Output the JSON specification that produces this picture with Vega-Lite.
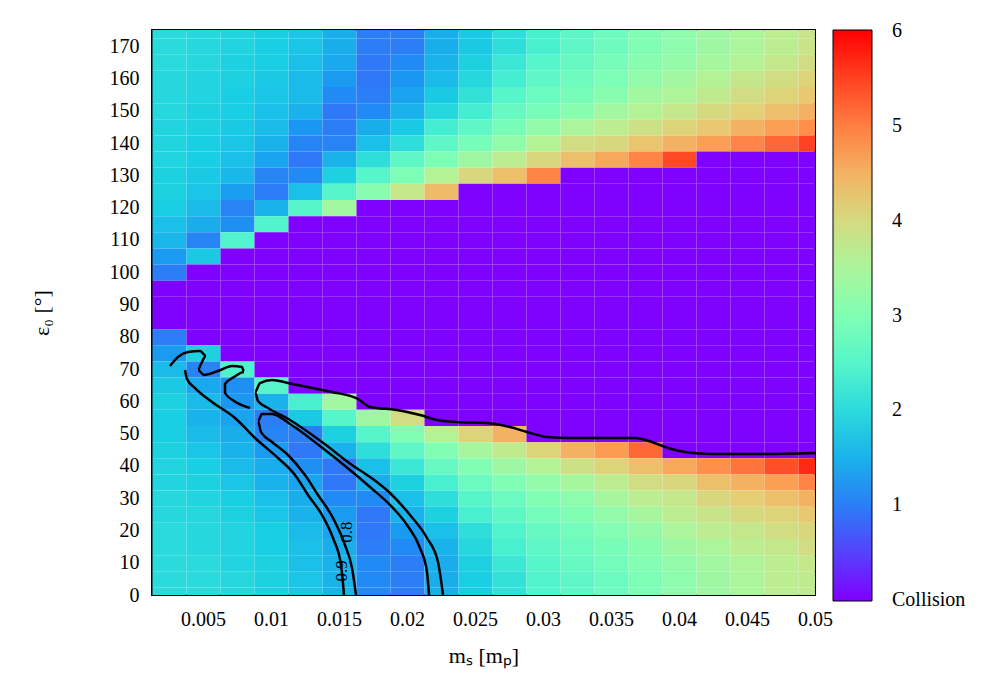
{
"$schema": "https://vega.github.io/schema/vega-lite/v6.json",
"width": 663, "height": 565,
"autosize": {"type": "none"},
"padding": {"left": 152, "top": 30, "right": 185, "bottom": 105},
"background": "white",
"config": {
 "view": {"stroke": "black", "strokeWidth": 2},
 "axis": {"domain": false, "ticks": false, "grid": false, "labelFont": "Liberation Serif", "labelFontSize": 20, "labelColor": "black", "titleFont": "Liberation Serif", "titleFontSize": 22, "titleFontWeight": "normal", "titleColor": "black"},
 "legend": {"labelFont": "Liberation Serif", "labelFontSize": 20, "labelColor": "black"}
},
"datasets": {
"cells": [
{"x":0.0025,"y":175,"v":2},{"x":0.005,"y":175,"v":1.95},{"x":0.0075,"y":175,"v":1.9},{"x":0.01,"y":175,"v":1.8},{"x":0.0125,"y":175,"v":1.7},{"x":0.015,"y":175,"v":1.45},{"x":0.0175,"y":175,"v":1},{"x":0.02,"y":175,"v":1},{"x":0.0225,"y":175,"v":1.45},{"x":0.025,"y":175,"v":1.75},{"x":0.0275,"y":175,"v":2.05},{"x":0.03,"y":175,"v":2.35},{"x":0.0325,"y":175,"v":2.6},{"x":0.035,"y":175,"v":2.8},{"x":0.0375,"y":175,"v":3},{"x":0.04,"y":175,"v":3.15},{"x":0.0425,"y":175,"v":3.35},{"x":0.045,"y":175,"v":3.5},{"x":0.0475,"y":175,"v":3.7},{"x":0.05,"y":175,"v":3.85},
{"x":0.0025,"y":170,"v":2},{"x":0.005,"y":170,"v":1.95},{"x":0.0075,"y":170,"v":1.9},{"x":0.01,"y":170,"v":1.8},{"x":0.0125,"y":170,"v":1.7},{"x":0.015,"y":170,"v":1.45},{"x":0.0175,"y":170,"v":1},{"x":0.02,"y":170,"v":1},{"x":0.0225,"y":170,"v":1.45},{"x":0.025,"y":170,"v":1.75},{"x":0.0275,"y":170,"v":2.05},{"x":0.03,"y":170,"v":2.35},{"x":0.0325,"y":170,"v":2.6},{"x":0.035,"y":170,"v":2.8},{"x":0.0375,"y":170,"v":3},{"x":0.04,"y":170,"v":3.15},{"x":0.0425,"y":170,"v":3.35},{"x":0.045,"y":170,"v":3.5},{"x":0.0475,"y":170,"v":3.7},{"x":0.05,"y":170,"v":3.85},
{"x":0.0025,"y":165,"v":2},{"x":0.005,"y":165,"v":1.95},{"x":0.0075,"y":165,"v":1.85},{"x":0.01,"y":165,"v":1.8},{"x":0.0125,"y":165,"v":1.65},{"x":0.015,"y":165,"v":1.4},{"x":0.0175,"y":165,"v":0.95},{"x":0.02,"y":165,"v":1.1},{"x":0.0225,"y":165,"v":1.5},{"x":0.025,"y":165,"v":1.85},{"x":0.0275,"y":165,"v":2.2},{"x":0.03,"y":165,"v":2.5},{"x":0.0325,"y":165,"v":2.7},{"x":0.035,"y":165,"v":2.9},{"x":0.0375,"y":165,"v":3.1},{"x":0.04,"y":165,"v":3.25},{"x":0.0425,"y":165,"v":3.45},{"x":0.045,"y":165,"v":3.6},{"x":0.0475,"y":165,"v":3.8},{"x":0.05,"y":165,"v":3.95},
{"x":0.0025,"y":160,"v":1.95},{"x":0.005,"y":160,"v":1.9},{"x":0.0075,"y":160,"v":1.85},{"x":0.01,"y":160,"v":1.75},{"x":0.0125,"y":160,"v":1.6},{"x":0.015,"y":160,"v":1.25},{"x":0.0175,"y":160,"v":0.95},{"x":0.02,"y":160,"v":1.2},{"x":0.0225,"y":160,"v":1.6},{"x":0.025,"y":160,"v":1.95},{"x":0.0275,"y":160,"v":2.3},{"x":0.03,"y":160,"v":2.6},{"x":0.0325,"y":160,"v":2.8},{"x":0.035,"y":160,"v":2.95},{"x":0.0375,"y":160,"v":3.2},{"x":0.04,"y":160,"v":3.4},{"x":0.0425,"y":160,"v":3.6},{"x":0.045,"y":160,"v":3.8},{"x":0.0475,"y":160,"v":3.95},{"x":0.05,"y":160,"v":4.1},
{"x":0.0025,"y":155,"v":1.95},{"x":0.005,"y":155,"v":1.9},{"x":0.0075,"y":155,"v":1.8},{"x":0.01,"y":155,"v":1.7},{"x":0.0125,"y":155,"v":1.6},{"x":0.015,"y":155,"v":1.1},{"x":0.0175,"y":155,"v":1},{"x":0.02,"y":155,"v":1.35},{"x":0.0225,"y":155,"v":1.75},{"x":0.025,"y":155,"v":2.1},{"x":0.0275,"y":155,"v":2.5},{"x":0.03,"y":155,"v":2.75},{"x":0.0325,"y":155,"v":2.9},{"x":0.035,"y":155,"v":3.1},{"x":0.0375,"y":155,"v":3.4},{"x":0.04,"y":155,"v":3.55},{"x":0.0425,"y":155,"v":3.75},{"x":0.045,"y":155,"v":3.95},{"x":0.0475,"y":155,"v":4.1},{"x":0.05,"y":155,"v":4.25},
{"x":0.0025,"y":150,"v":1.95},{"x":0.005,"y":150,"v":1.85},{"x":0.0075,"y":150,"v":1.8},{"x":0.01,"y":150,"v":1.65},{"x":0.0125,"y":150,"v":1.5},{"x":0.015,"y":150,"v":0.95},{"x":0.0175,"y":150,"v":1.1},{"x":0.02,"y":150,"v":1.5},{"x":0.0225,"y":150,"v":1.95},{"x":0.025,"y":150,"v":2.3},{"x":0.0275,"y":150,"v":2.7},{"x":0.03,"y":150,"v":2.9},{"x":0.0325,"y":150,"v":3.1},{"x":0.035,"y":150,"v":3.4},{"x":0.0375,"y":150,"v":3.6},{"x":0.04,"y":150,"v":3.8},{"x":0.0425,"y":150,"v":4},{"x":0.045,"y":150,"v":4.15},{"x":0.0475,"y":150,"v":4.35},{"x":0.05,"y":150,"v":4.5},
{"x":0.0025,"y":145,"v":1.9},{"x":0.005,"y":145,"v":1.85},{"x":0.0075,"y":145,"v":1.75},{"x":0.01,"y":145,"v":1.6},{"x":0.0125,"y":145,"v":1.2},{"x":0.015,"y":145,"v":1},{"x":0.0175,"y":145,"v":1.45},{"x":0.02,"y":145,"v":1.75},{"x":0.0225,"y":145,"v":2.3},{"x":0.025,"y":145,"v":2.6},{"x":0.0275,"y":145,"v":2.9},{"x":0.03,"y":145,"v":3.2},{"x":0.0325,"y":145,"v":3.5},{"x":0.035,"y":145,"v":3.7},{"x":0.0375,"y":145,"v":3.9},{"x":0.04,"y":145,"v":4.1},{"x":0.0425,"y":145,"v":4.25},{"x":0.045,"y":145,"v":4.5},{"x":0.0475,"y":145,"v":4.7},{"x":0.05,"y":145,"v":4.85},
{"x":0.0025,"y":140,"v":1.9},{"x":0.005,"y":140,"v":1.8},{"x":0.0075,"y":140,"v":1.7},{"x":0.01,"y":140,"v":1.5},{"x":0.0125,"y":140,"v":1.05},{"x":0.015,"y":140,"v":1.05},{"x":0.0175,"y":140,"v":1.65},{"x":0.02,"y":140,"v":2.05},{"x":0.0225,"y":140,"v":2.6},{"x":0.025,"y":140,"v":2.9},{"x":0.0275,"y":140,"v":3.2},{"x":0.03,"y":140,"v":3.6},{"x":0.0325,"y":140,"v":3.95},{"x":0.035,"y":140,"v":4.05},{"x":0.0375,"y":140,"v":4.3},{"x":0.04,"y":140,"v":4.5},{"x":0.0425,"y":140,"v":4.7},{"x":0.045,"y":140,"v":4.95},{"x":0.0475,"y":140,"v":5.2},{"x":0.05,"y":140,"v":5.5},
{"x":0.0025,"y":135,"v":1.9},{"x":0.005,"y":135,"v":1.8},{"x":0.0075,"y":135,"v":1.65},{"x":0.01,"y":135,"v":1.35},{"x":0.0125,"y":135,"v":0.95},{"x":0.015,"y":135,"v":1.5},{"x":0.0175,"y":135,"v":2.05},{"x":0.02,"y":135,"v":2.6},{"x":0.0225,"y":135,"v":2.95},{"x":0.025,"y":135,"v":3.35},{"x":0.0275,"y":135,"v":3.7},{"x":0.03,"y":135,"v":4.05},{"x":0.0325,"y":135,"v":4.35},{"x":0.035,"y":135,"v":4.6},{"x":0.0375,"y":135,"v":4.95},{"x":0.04,"y":135,"v":5.45},{"x":0.0425,"y":135,"v":0},{"x":0.045,"y":135,"v":0},{"x":0.0475,"y":135,"v":0},{"x":0.05,"y":135,"v":0},
{"x":0.0025,"y":130,"v":1.85},{"x":0.005,"y":130,"v":1.75},{"x":0.0075,"y":130,"v":1.55},{"x":0.01,"y":130,"v":1.05},{"x":0.0125,"y":130,"v":1.1},{"x":0.015,"y":130,"v":1.85},{"x":0.0175,"y":130,"v":2.5},{"x":0.02,"y":130,"v":2.95},{"x":0.0225,"y":130,"v":3.6},{"x":0.025,"y":130,"v":4.05},{"x":0.0275,"y":130,"v":4.35},{"x":0.03,"y":130,"v":4.95},{"x":0.0325,"y":130,"v":0},{"x":0.035,"y":130,"v":0},{"x":0.0375,"y":130,"v":0},{"x":0.04,"y":130,"v":0},{"x":0.0425,"y":130,"v":0},{"x":0.045,"y":130,"v":0},{"x":0.0475,"y":130,"v":0},{"x":0.05,"y":130,"v":0},
{"x":0.0025,"y":125,"v":1.85},{"x":0.005,"y":125,"v":1.7},{"x":0.0075,"y":125,"v":1.3},{"x":0.01,"y":125,"v":1},{"x":0.0125,"y":125,"v":1.65},{"x":0.015,"y":125,"v":2.5},{"x":0.0175,"y":125,"v":3.1},{"x":0.02,"y":125,"v":3.8},{"x":0.0225,"y":125,"v":4.4},{"x":0.025,"y":125,"v":0},{"x":0.0275,"y":125,"v":0},{"x":0.03,"y":125,"v":0},{"x":0.0325,"y":125,"v":0},{"x":0.035,"y":125,"v":0},{"x":0.0375,"y":125,"v":0},{"x":0.04,"y":125,"v":0},{"x":0.0425,"y":125,"v":0},{"x":0.045,"y":125,"v":0},{"x":0.0475,"y":125,"v":0},{"x":0.05,"y":125,"v":0},
{"x":0.0025,"y":120,"v":1.8},{"x":0.005,"y":120,"v":1.6},{"x":0.0075,"y":120,"v":1.05},{"x":0.01,"y":120,"v":1.5},{"x":0.0125,"y":120,"v":2.5},{"x":0.015,"y":120,"v":3.4},{"x":0.0175,"y":120,"v":0},{"x":0.02,"y":120,"v":0},{"x":0.0225,"y":120,"v":0},{"x":0.025,"y":120,"v":0},{"x":0.0275,"y":120,"v":0},{"x":0.03,"y":120,"v":0},{"x":0.0325,"y":120,"v":0},{"x":0.035,"y":120,"v":0},{"x":0.0375,"y":120,"v":0},{"x":0.04,"y":120,"v":0},{"x":0.0425,"y":120,"v":0},{"x":0.045,"y":120,"v":0},{"x":0.0475,"y":120,"v":0},{"x":0.05,"y":120,"v":0},
{"x":0.0025,"y":115,"v":1.65},{"x":0.005,"y":115,"v":1.45},{"x":0.0075,"y":115,"v":1.15},{"x":0.01,"y":115,"v":2.45},{"x":0.0125,"y":115,"v":0},{"x":0.015,"y":115,"v":0},{"x":0.0175,"y":115,"v":0},{"x":0.02,"y":115,"v":0},{"x":0.0225,"y":115,"v":0},{"x":0.025,"y":115,"v":0},{"x":0.0275,"y":115,"v":0},{"x":0.03,"y":115,"v":0},{"x":0.0325,"y":115,"v":0},{"x":0.035,"y":115,"v":0},{"x":0.0375,"y":115,"v":0},{"x":0.04,"y":115,"v":0},{"x":0.0425,"y":115,"v":0},{"x":0.045,"y":115,"v":0},{"x":0.0475,"y":115,"v":0},{"x":0.05,"y":115,"v":0},
{"x":0.0025,"y":110,"v":1.55},{"x":0.005,"y":110,"v":1.05},{"x":0.0075,"y":110,"v":2.45},{"x":0.01,"y":110,"v":0},{"x":0.0125,"y":110,"v":0},{"x":0.015,"y":110,"v":0},{"x":0.0175,"y":110,"v":0},{"x":0.02,"y":110,"v":0},{"x":0.0225,"y":110,"v":0},{"x":0.025,"y":110,"v":0},{"x":0.0275,"y":110,"v":0},{"x":0.03,"y":110,"v":0},{"x":0.0325,"y":110,"v":0},{"x":0.035,"y":110,"v":0},{"x":0.0375,"y":110,"v":0},{"x":0.04,"y":110,"v":0},{"x":0.0425,"y":110,"v":0},{"x":0.045,"y":110,"v":0},{"x":0.0475,"y":110,"v":0},{"x":0.05,"y":110,"v":0},
{"x":0.0025,"y":105,"v":1.25},{"x":0.005,"y":105,"v":1.75},{"x":0.0075,"y":105,"v":0},{"x":0.01,"y":105,"v":0},{"x":0.0125,"y":105,"v":0},{"x":0.015,"y":105,"v":0},{"x":0.0175,"y":105,"v":0},{"x":0.02,"y":105,"v":0},{"x":0.0225,"y":105,"v":0},{"x":0.025,"y":105,"v":0},{"x":0.0275,"y":105,"v":0},{"x":0.03,"y":105,"v":0},{"x":0.0325,"y":105,"v":0},{"x":0.035,"y":105,"v":0},{"x":0.0375,"y":105,"v":0},{"x":0.04,"y":105,"v":0},{"x":0.0425,"y":105,"v":0},{"x":0.045,"y":105,"v":0},{"x":0.0475,"y":105,"v":0},{"x":0.05,"y":105,"v":0},
{"x":0.0025,"y":100,"v":1},{"x":0.005,"y":100,"v":0},{"x":0.0075,"y":100,"v":0},{"x":0.01,"y":100,"v":0},{"x":0.0125,"y":100,"v":0},{"x":0.015,"y":100,"v":0},{"x":0.0175,"y":100,"v":0},{"x":0.02,"y":100,"v":0},{"x":0.0225,"y":100,"v":0},{"x":0.025,"y":100,"v":0},{"x":0.0275,"y":100,"v":0},{"x":0.03,"y":100,"v":0},{"x":0.0325,"y":100,"v":0},{"x":0.035,"y":100,"v":0},{"x":0.0375,"y":100,"v":0},{"x":0.04,"y":100,"v":0},{"x":0.0425,"y":100,"v":0},{"x":0.045,"y":100,"v":0},{"x":0.0475,"y":100,"v":0},{"x":0.05,"y":100,"v":0},
{"x":0.0025,"y":95,"v":0},{"x":0.005,"y":95,"v":0},{"x":0.0075,"y":95,"v":0},{"x":0.01,"y":95,"v":0},{"x":0.0125,"y":95,"v":0},{"x":0.015,"y":95,"v":0},{"x":0.0175,"y":95,"v":0},{"x":0.02,"y":95,"v":0},{"x":0.0225,"y":95,"v":0},{"x":0.025,"y":95,"v":0},{"x":0.0275,"y":95,"v":0},{"x":0.03,"y":95,"v":0},{"x":0.0325,"y":95,"v":0},{"x":0.035,"y":95,"v":0},{"x":0.0375,"y":95,"v":0},{"x":0.04,"y":95,"v":0},{"x":0.0425,"y":95,"v":0},{"x":0.045,"y":95,"v":0},{"x":0.0475,"y":95,"v":0},{"x":0.05,"y":95,"v":0},
{"x":0.0025,"y":90,"v":0},{"x":0.005,"y":90,"v":0},{"x":0.0075,"y":90,"v":0},{"x":0.01,"y":90,"v":0},{"x":0.0125,"y":90,"v":0},{"x":0.015,"y":90,"v":0},{"x":0.0175,"y":90,"v":0},{"x":0.02,"y":90,"v":0},{"x":0.0225,"y":90,"v":0},{"x":0.025,"y":90,"v":0},{"x":0.0275,"y":90,"v":0},{"x":0.03,"y":90,"v":0},{"x":0.0325,"y":90,"v":0},{"x":0.035,"y":90,"v":0},{"x":0.0375,"y":90,"v":0},{"x":0.04,"y":90,"v":0},{"x":0.0425,"y":90,"v":0},{"x":0.045,"y":90,"v":0},{"x":0.0475,"y":90,"v":0},{"x":0.05,"y":90,"v":0},
{"x":0.0025,"y":85,"v":0},{"x":0.005,"y":85,"v":0},{"x":0.0075,"y":85,"v":0},{"x":0.01,"y":85,"v":0},{"x":0.0125,"y":85,"v":0},{"x":0.015,"y":85,"v":0},{"x":0.0175,"y":85,"v":0},{"x":0.02,"y":85,"v":0},{"x":0.0225,"y":85,"v":0},{"x":0.025,"y":85,"v":0},{"x":0.0275,"y":85,"v":0},{"x":0.03,"y":85,"v":0},{"x":0.0325,"y":85,"v":0},{"x":0.035,"y":85,"v":0},{"x":0.0375,"y":85,"v":0},{"x":0.04,"y":85,"v":0},{"x":0.0425,"y":85,"v":0},{"x":0.045,"y":85,"v":0},{"x":0.0475,"y":85,"v":0},{"x":0.05,"y":85,"v":0},
{"x":0.0025,"y":80,"v":1},{"x":0.005,"y":80,"v":0},{"x":0.0075,"y":80,"v":0},{"x":0.01,"y":80,"v":0},{"x":0.0125,"y":80,"v":0},{"x":0.015,"y":80,"v":0},{"x":0.0175,"y":80,"v":0},{"x":0.02,"y":80,"v":0},{"x":0.0225,"y":80,"v":0},{"x":0.025,"y":80,"v":0},{"x":0.0275,"y":80,"v":0},{"x":0.03,"y":80,"v":0},{"x":0.0325,"y":80,"v":0},{"x":0.035,"y":80,"v":0},{"x":0.0375,"y":80,"v":0},{"x":0.04,"y":80,"v":0},{"x":0.0425,"y":80,"v":0},{"x":0.045,"y":80,"v":0},{"x":0.0475,"y":80,"v":0},{"x":0.05,"y":80,"v":0},
{"x":0.0025,"y":75,"v":1.25},{"x":0.005,"y":75,"v":1.85},{"x":0.0075,"y":75,"v":0},{"x":0.01,"y":75,"v":0},{"x":0.0125,"y":75,"v":0},{"x":0.015,"y":75,"v":0},{"x":0.0175,"y":75,"v":0},{"x":0.02,"y":75,"v":0},{"x":0.0225,"y":75,"v":0},{"x":0.025,"y":75,"v":0},{"x":0.0275,"y":75,"v":0},{"x":0.03,"y":75,"v":0},{"x":0.0325,"y":75,"v":0},{"x":0.035,"y":75,"v":0},{"x":0.0375,"y":75,"v":0},{"x":0.04,"y":75,"v":0},{"x":0.0425,"y":75,"v":0},{"x":0.045,"y":75,"v":0},{"x":0.0475,"y":75,"v":0},{"x":0.05,"y":75,"v":0},
{"x":0.0025,"y":70,"v":1.6},{"x":0.005,"y":70,"v":1.05},{"x":0.0075,"y":70,"v":2.4},{"x":0.01,"y":70,"v":0},{"x":0.0125,"y":70,"v":0},{"x":0.015,"y":70,"v":0},{"x":0.0175,"y":70,"v":0},{"x":0.02,"y":70,"v":0},{"x":0.0225,"y":70,"v":0},{"x":0.025,"y":70,"v":0},{"x":0.0275,"y":70,"v":0},{"x":0.03,"y":70,"v":0},{"x":0.0325,"y":70,"v":0},{"x":0.035,"y":70,"v":0},{"x":0.0375,"y":70,"v":0},{"x":0.04,"y":70,"v":0},{"x":0.0425,"y":70,"v":0},{"x":0.045,"y":70,"v":0},{"x":0.0475,"y":70,"v":0},{"x":0.05,"y":70,"v":0},
{"x":0.0025,"y":65,"v":1.75},{"x":0.005,"y":65,"v":1.4},{"x":0.0075,"y":65,"v":1.15},{"x":0.01,"y":65,"v":2.5},{"x":0.0125,"y":65,"v":0},{"x":0.015,"y":65,"v":0},{"x":0.0175,"y":65,"v":0},{"x":0.02,"y":65,"v":0},{"x":0.0225,"y":65,"v":0},{"x":0.025,"y":65,"v":0},{"x":0.0275,"y":65,"v":0},{"x":0.03,"y":65,"v":0},{"x":0.0325,"y":65,"v":0},{"x":0.035,"y":65,"v":0},{"x":0.0375,"y":65,"v":0},{"x":0.04,"y":65,"v":0},{"x":0.0425,"y":65,"v":0},{"x":0.045,"y":65,"v":0},{"x":0.0475,"y":65,"v":0},{"x":0.05,"y":65,"v":0},
{"x":0.0025,"y":60,"v":1.85},{"x":0.005,"y":60,"v":1.6},{"x":0.0075,"y":60,"v":1.2},{"x":0.01,"y":60,"v":1.5},{"x":0.0125,"y":60,"v":2.35},{"x":0.015,"y":60,"v":3.4},{"x":0.0175,"y":60,"v":0},{"x":0.02,"y":60,"v":0},{"x":0.0225,"y":60,"v":0},{"x":0.025,"y":60,"v":0},{"x":0.0275,"y":60,"v":0},{"x":0.03,"y":60,"v":0},{"x":0.0325,"y":60,"v":0},{"x":0.035,"y":60,"v":0},{"x":0.0375,"y":60,"v":0},{"x":0.04,"y":60,"v":0},{"x":0.0425,"y":60,"v":0},{"x":0.045,"y":60,"v":0},{"x":0.0475,"y":60,"v":0},{"x":0.05,"y":60,"v":0},
{"x":0.0025,"y":55,"v":1.8},{"x":0.005,"y":55,"v":1.5},{"x":0.0075,"y":55,"v":1.35},{"x":0.01,"y":55,"v":1},{"x":0.0125,"y":55,"v":1.75},{"x":0.015,"y":55,"v":2.5},{"x":0.0175,"y":55,"v":3.35},{"x":0.02,"y":55,"v":3.95},{"x":0.0225,"y":55,"v":0},{"x":0.025,"y":55,"v":0},{"x":0.0275,"y":55,"v":0},{"x":0.03,"y":55,"v":0},{"x":0.0325,"y":55,"v":0},{"x":0.035,"y":55,"v":0},{"x":0.0375,"y":55,"v":0},{"x":0.04,"y":55,"v":0},{"x":0.0425,"y":55,"v":0},{"x":0.045,"y":55,"v":0},{"x":0.0475,"y":55,"v":0},{"x":0.05,"y":55,"v":0},
{"x":0.0025,"y":50,"v":1.8},{"x":0.005,"y":50,"v":1.6},{"x":0.0075,"y":50,"v":1.45},{"x":0.01,"y":50,"v":1.05},{"x":0.0125,"y":50,"v":1},{"x":0.015,"y":50,"v":1.85},{"x":0.0175,"y":50,"v":2.5},{"x":0.02,"y":50,"v":3},{"x":0.0225,"y":50,"v":3.6},{"x":0.025,"y":50,"v":4.1},{"x":0.0275,"y":50,"v":4.5},{"x":0.03,"y":50,"v":0},{"x":0.0325,"y":50,"v":0},{"x":0.035,"y":50,"v":0},{"x":0.0375,"y":50,"v":0},{"x":0.04,"y":50,"v":0},{"x":0.0425,"y":50,"v":0},{"x":0.045,"y":50,"v":0},{"x":0.0475,"y":50,"v":0},{"x":0.05,"y":50,"v":0},
{"x":0.0025,"y":45,"v":1.85},{"x":0.005,"y":45,"v":1.7},{"x":0.0075,"y":45,"v":1.5},{"x":0.01,"y":45,"v":1.25},{"x":0.0125,"y":45,"v":0.95},{"x":0.015,"y":45,"v":1.5},{"x":0.0175,"y":45,"v":2.05},{"x":0.02,"y":45,"v":2.6},{"x":0.0225,"y":45,"v":3},{"x":0.025,"y":45,"v":3.45},{"x":0.0275,"y":45,"v":3.75},{"x":0.03,"y":45,"v":4.1},{"x":0.0325,"y":45,"v":4.5},{"x":0.035,"y":45,"v":4.75},{"x":0.0375,"y":45,"v":5.2},{"x":0.04,"y":45,"v":0},{"x":0.0425,"y":45,"v":0},{"x":0.045,"y":45,"v":0},{"x":0.0475,"y":45,"v":0},{"x":0.05,"y":45,"v":0},
{"x":0.0025,"y":40,"v":1.9},{"x":0.005,"y":40,"v":1.8},{"x":0.0075,"y":40,"v":1.6},{"x":0.01,"y":40,"v":1.45},{"x":0.0125,"y":40,"v":1.15},{"x":0.015,"y":40,"v":0.95},{"x":0.0175,"y":40,"v":1.65},{"x":0.02,"y":40,"v":2.2},{"x":0.0225,"y":40,"v":2.7},{"x":0.025,"y":40,"v":3},{"x":0.0275,"y":40,"v":3.35},{"x":0.03,"y":40,"v":3.6},{"x":0.0325,"y":40,"v":3.9},{"x":0.035,"y":40,"v":4.1},{"x":0.0375,"y":40,"v":4.35},{"x":0.04,"y":40,"v":4.6},{"x":0.0425,"y":40,"v":4.85},{"x":0.045,"y":40,"v":5.1},{"x":0.0475,"y":40,"v":5.4},{"x":0.05,"y":40,"v":5.7},
{"x":0.0025,"y":35,"v":1.9},{"x":0.005,"y":35,"v":1.85},{"x":0.0075,"y":35,"v":1.7},{"x":0.01,"y":35,"v":1.5},{"x":0.0125,"y":35,"v":1.35},{"x":0.015,"y":35,"v":0.95},{"x":0.0175,"y":35,"v":1.45},{"x":0.02,"y":35,"v":1.85},{"x":0.0225,"y":35,"v":2.35},{"x":0.025,"y":35,"v":2.75},{"x":0.0275,"y":35,"v":3},{"x":0.03,"y":35,"v":3.2},{"x":0.0325,"y":35,"v":3.45},{"x":0.035,"y":35,"v":3.7},{"x":0.0375,"y":35,"v":3.95},{"x":0.04,"y":35,"v":4.05},{"x":0.0425,"y":35,"v":4.35},{"x":0.045,"y":35,"v":4.5},{"x":0.0475,"y":35,"v":4.7},{"x":0.05,"y":35,"v":4.95},
{"x":0.0025,"y":30,"v":1.95},{"x":0.005,"y":30,"v":1.9},{"x":0.0075,"y":30,"v":1.8},{"x":0.01,"y":30,"v":1.65},{"x":0.0125,"y":30,"v":1.45},{"x":0.015,"y":30,"v":1.1},{"x":0.0175,"y":30,"v":1.1},{"x":0.02,"y":30,"v":1.65},{"x":0.0225,"y":30,"v":2.05},{"x":0.025,"y":30,"v":2.5},{"x":0.0275,"y":30,"v":2.75},{"x":0.03,"y":30,"v":3},{"x":0.0325,"y":30,"v":3.15},{"x":0.035,"y":30,"v":3.45},{"x":0.0375,"y":30,"v":3.7},{"x":0.04,"y":30,"v":3.8},{"x":0.0425,"y":30,"v":4.05},{"x":0.045,"y":30,"v":4.2},{"x":0.0475,"y":30,"v":4.35},{"x":0.05,"y":30,"v":4.5},
{"x":0.0025,"y":25,"v":1.95},{"x":0.005,"y":25,"v":1.95},{"x":0.0075,"y":25,"v":1.85},{"x":0.01,"y":25,"v":1.7},{"x":0.0125,"y":25,"v":1.5},{"x":0.015,"y":25,"v":1.25},{"x":0.0175,"y":25,"v":0.95},{"x":0.02,"y":25,"v":1.5},{"x":0.0225,"y":25,"v":1.85},{"x":0.025,"y":25,"v":2.35},{"x":0.0275,"y":25,"v":2.6},{"x":0.03,"y":25,"v":2.85},{"x":0.0325,"y":25,"v":3},{"x":0.035,"y":25,"v":3.2},{"x":0.0375,"y":25,"v":3.45},{"x":0.04,"y":25,"v":3.7},{"x":0.0425,"y":25,"v":3.85},{"x":0.045,"y":25,"v":4},{"x":0.0475,"y":25,"v":4.1},{"x":0.05,"y":25,"v":4.25},
{"x":0.0025,"y":20,"v":2},{"x":0.005,"y":20,"v":1.95},{"x":0.0075,"y":20,"v":1.9},{"x":0.01,"y":20,"v":1.8},{"x":0.0125,"y":20,"v":1.6},{"x":0.015,"y":20,"v":1.35},{"x":0.0175,"y":20,"v":0.95},{"x":0.02,"y":20,"v":1.25},{"x":0.0225,"y":20,"v":1.65},{"x":0.025,"y":20,"v":2.05},{"x":0.0275,"y":20,"v":2.45},{"x":0.03,"y":20,"v":2.7},{"x":0.0325,"y":20,"v":2.85},{"x":0.035,"y":20,"v":3.05},{"x":0.0375,"y":20,"v":3.25},{"x":0.04,"y":20,"v":3.5},{"x":0.0425,"y":20,"v":3.7},{"x":0.045,"y":20,"v":3.8},{"x":0.0475,"y":20,"v":3.95},{"x":0.05,"y":20,"v":4.05},
{"x":0.0025,"y":15,"v":2},{"x":0.005,"y":15,"v":1.95},{"x":0.0075,"y":15,"v":1.9},{"x":0.01,"y":15,"v":1.8},{"x":0.0125,"y":15,"v":1.65},{"x":0.015,"y":15,"v":1.45},{"x":0.0175,"y":15,"v":1},{"x":0.02,"y":15,"v":1.1},{"x":0.0225,"y":15,"v":1.5},{"x":0.025,"y":15,"v":1.95},{"x":0.0275,"y":15,"v":2.35},{"x":0.03,"y":15,"v":2.6},{"x":0.0325,"y":15,"v":2.75},{"x":0.035,"y":15,"v":2.9},{"x":0.0375,"y":15,"v":3.1},{"x":0.04,"y":15,"v":3.35},{"x":0.0425,"y":15,"v":3.5},{"x":0.045,"y":15,"v":3.7},{"x":0.0475,"y":15,"v":3.8},{"x":0.05,"y":15,"v":3.95},
{"x":0.0025,"y":10,"v":2},{"x":0.005,"y":10,"v":2},{"x":0.0075,"y":10,"v":1.9},{"x":0.01,"y":10,"v":1.85},{"x":0.0125,"y":10,"v":1.65},{"x":0.015,"y":10,"v":1.5},{"x":0.0175,"y":10,"v":1.1},{"x":0.02,"y":10,"v":1},{"x":0.0225,"y":10,"v":1.45},{"x":0.025,"y":10,"v":1.85},{"x":0.0275,"y":10,"v":2.2},{"x":0.03,"y":10,"v":2.5},{"x":0.0325,"y":10,"v":2.7},{"x":0.035,"y":10,"v":2.85},{"x":0.0375,"y":10,"v":3.05},{"x":0.04,"y":10,"v":3.2},{"x":0.0425,"y":10,"v":3.4},{"x":0.045,"y":10,"v":3.55},{"x":0.0475,"y":10,"v":3.7},{"x":0.05,"y":10,"v":3.8},
{"x":0.0025,"y":5,"v":2},{"x":0.005,"y":5,"v":2},{"x":0.0075,"y":5,"v":1.95},{"x":0.01,"y":5,"v":1.85},{"x":0.0125,"y":5,"v":1.7},{"x":0.015,"y":5,"v":1.5},{"x":0.0175,"y":5,"v":1.1},{"x":0.02,"y":5,"v":1},{"x":0.0225,"y":5,"v":1.45},{"x":0.025,"y":5,"v":1.8},{"x":0.0275,"y":5,"v":2.1},{"x":0.03,"y":5,"v":2.45},{"x":0.0325,"y":5,"v":2.6},{"x":0.035,"y":5,"v":2.75},{"x":0.0375,"y":5,"v":2.95},{"x":0.04,"y":5,"v":3.15},{"x":0.0425,"y":5,"v":3.35},{"x":0.045,"y":5,"v":3.5},{"x":0.0475,"y":5,"v":3.7},{"x":0.05,"y":5,"v":3.75},
{"x":0.0025,"y":0,"v":2},{"x":0.005,"y":0,"v":2},{"x":0.0075,"y":0,"v":1.95},{"x":0.01,"y":0,"v":1.85},{"x":0.0125,"y":0,"v":1.7},{"x":0.015,"y":0,"v":1.5},{"x":0.0175,"y":0,"v":1.1},{"x":0.02,"y":0,"v":1},{"x":0.0225,"y":0,"v":1.45},{"x":0.025,"y":0,"v":1.8},{"x":0.0275,"y":0,"v":2.1},{"x":0.03,"y":0,"v":2.45},{"x":0.0325,"y":0,"v":2.6},{"x":0.035,"y":0,"v":2.75},{"x":0.0375,"y":0,"v":2.95},{"x":0.04,"y":0,"v":3.15},{"x":0.0425,"y":0,"v":3.35},{"x":0.045,"y":0,"v":3.5},{"x":0.0475,"y":0,"v":3.7},{"x":0.05,"y":0,"v":3.75}
],
"contours": [
{"id":"a","o":1,"x":0.05,"y":43.98},{"id":"a","o":2,"x":0.046103,"y":43.67},{"id":"a","o":3,"x":0.042426,"y":43.67},{"id":"a","o":4,"x":0.040441,"y":44.29},{"id":"a","o":5,"x":0.039191,"y":45.53},{"id":"a","o":6,"x":0.038015,"y":47.39},{"id":"a","o":7,"x":0.036765,"y":48.63},{"id":"a","o":8,"x":0.031985,"y":48.63},{"id":"a","o":9,"x":0.030294,"y":48.94},{"id":"a","o":10,"x":0.028824,"y":50.49},{"id":"a","o":11,"x":0.027574,"y":52.03},{"id":"a","o":12,"x":0.025882,"y":53.27},{"id":"a","o":13,"x":0.023676,"y":53.58},{"id":"a","o":14,"x":0.022206,"y":54.2},{"id":"a","o":15,"x":0.020956,"y":55.75},{"id":"a","o":16,"x":0.019265,"y":57.3},{"id":"a","o":17,"x":0.017279,"y":58.23},{"id":"a","o":18,"x":0.016397,"y":60.71},{"id":"a","o":19,"x":0.014485,"y":62.88},{"id":"a","o":20,"x":0.013015,"y":64.11},{"id":"a","o":21,"x":0.01125,"y":65.66},{"id":"a","o":22,"x":0.010074,"y":66.59},{"id":"a","o":23,"x":0.009191,"y":65.66},{"id":"a","o":24,"x":0.008824,"y":62.88},{"id":"a","o":25,"x":0.009044,"y":60.09},{"id":"a","o":26,"x":0.009779,"y":57.92},{"id":"a","o":27,"x":0.011397,"y":54.2},{"id":"a","o":28,"x":0.01375,"y":47.39},{"id":"a","o":29,"x":0.015956,"y":40.27},{"id":"a","o":30,"x":0.017279,"y":36.55},{"id":"a","o":31,"x":0.01875,"y":31.59},{"id":"a","o":32,"x":0.020221,"y":24.78},{"id":"a","o":33,"x":0.021471,"y":17.65},{"id":"a","o":34,"x":0.022279,"y":10.22},{"id":"a","o":35,"x":0.022647,"y":0},
{"id":"b","o":1,"x":0.01625,"y":0},{"id":"b","o":2,"x":0.015956,"y":8.36},{"id":"b","o":3,"x":0.015441,"y":15.49},{"id":"b","o":4,"x":0.014559,"y":23.85},{"id":"b","o":5,"x":0.013456,"y":30.97},{"id":"b","o":6,"x":0.0125,"y":37.17},{"id":"b","o":7,"x":0.01125,"y":43.36},{"id":"b","o":8,"x":0.010074,"y":47.39},{"id":"b","o":9,"x":0.009265,"y":50.49},{"id":"b","o":10,"x":0.009044,"y":53.89},{"id":"b","o":11,"x":0.009338,"y":56.06},{"id":"b","o":12,"x":0.010074,"y":56.06},{"id":"b","o":13,"x":0.011397,"y":52.96},{"id":"b","o":14,"x":0.013603,"y":46.15},{"id":"b","o":15,"x":0.015809,"y":38.72},{"id":"b","o":16,"x":0.017279,"y":33.45},{"id":"b","o":17,"x":0.01875,"y":27.88},{"id":"b","o":18,"x":0.02,"y":21.68},{"id":"b","o":19,"x":0.020956,"y":14.56},{"id":"b","o":20,"x":0.021471,"y":7.12},{"id":"b","o":21,"x":0.021618,"y":0},
{"id":"c","o":1,"x":0.002574,"y":70.93},{"id":"c","o":2,"x":0.003162,"y":73.72},{"id":"c","o":3,"x":0.003897,"y":75.27},{"id":"c","o":4,"x":0.004779,"y":75.57},{"id":"c","o":5,"x":0.005221,"y":74.03},{"id":"c","o":6,"x":0.004853,"y":71.55},{"id":"c","o":7,"x":0.004632,"y":69.69},{"id":"c","o":8,"x":0.005074,"y":68.14},{"id":"c","o":9,"x":0.006103,"y":69.38},{"id":"c","o":10,"x":0.007132,"y":70.93},{"id":"c","o":11,"x":0.007868,"y":70.62},{"id":"c","o":12,"x":0.008015,"y":69.07},{"id":"c","o":13,"x":0.007279,"y":67.52},{"id":"c","o":14,"x":0.006618,"y":65.35},{"id":"c","o":15,"x":0.006618,"y":62.57},{"id":"c","o":16,"x":0.007279,"y":60.09},{"id":"c","o":17,"x":0.008456,"y":57.92},
{"id":"d","o":1,"x":0.003676,"y":69.69},{"id":"d","o":2,"x":0.003824,"y":66.9},{"id":"d","o":3,"x":0.004412,"y":64.11},{"id":"d","o":4,"x":0.005662,"y":59.78},{"id":"d","o":5,"x":0.007353,"y":54.82},{"id":"d","o":6,"x":0.008824,"y":48.63},{"id":"d","o":7,"x":0.010515,"y":42.43},{"id":"d","o":8,"x":0.011765,"y":37.17},{"id":"d","o":9,"x":0.012721,"y":30.97},{"id":"d","o":10,"x":0.01375,"y":24.78},{"id":"d","o":11,"x":0.014559,"y":17.65},{"id":"d","o":12,"x":0.015147,"y":9.29},{"id":"d","o":13,"x":0.015368,"y":0}
],
"labels": [
{"x":0.0156,"y":19.5,"t":"0.8"},{"x":0.0152,"y":7.5,"t":"0.9"}
]
},
"layer": [
{
 "data": {"name": "cells"},
 "mark": {"type": "rect", "clip": true},
 "encoding": {
  "x": {"field": "x", "type": "quantitative", "bin": {"step": 0.0025, "extent": [0.00125, 0.05125], "nice": false}, "scale": {"domain": [0.00125, 0.05], "nice": false, "zero": false},
        "axis": {"values": [0.005,0.01,0.015,0.02,0.025,0.03,0.035,0.04,0.045,0.05], "format": "~g", "labelFlush": false, "labelPadding": 14, "titlePadding": 16}, "title": "mₛ [mₚ]"},
  "y": {"field": "y", "type": "quantitative", "bin": {"step": 5, "extent": [-2.5, 177.5], "nice": false}, "scale": {"domain": [0, 175], "nice": false, "zero": false},
        "axis": {"values": [0,10,20,30,40,50,60,70,80,90,100,110,120,130,140,150,160,170], "format": "d", "labelPadding": 13, "titlePadding": 56}, "title": "ε₀ [°]"},
  "color": {"field": "v", "type": "quantitative",
        "scale": {"type": "linear", "domain": [-0.01,0.6,1.2,1.8,2.4,3,3.6,4.2,4.8,5.4,6.01], "range": ["#8000ff","#4d4ffc","#1a96f3","#1acee3","#4df3ce","#80ffb4","#b3f396","#e6ce74","#ff964f","#ff4f28","#ff0000"], "interpolate": "rgb"},
        "legend": {"type": "gradient", "orient": "none", "legendX": 681, "legendY": 0, "direction": "vertical", "gradientLength": 571, "gradientThickness": 39, "title": null, "padding": 0,
                   "values": [0,1,2,3,4,5,6], "labelExpr": "datum.value == 0 ? 'Collision' : format(datum.value, 'd')", "labelOffset": 20, "labelOverlap": false,
                   "gradientStrokeColor": "black", "gradientStrokeWidth": 1}}
 }
},
{
 "data": {"name": "contours"},
 "mark": {"type": "line", "color": "black", "strokeWidth": 2.5, "clip": true, "interpolate": "monotone"},
 "encoding": {
  "x": {"field": "x", "type": "quantitative"},
  "y": {"field": "y", "type": "quantitative"},
  "detail": {"field": "id"},
  "order": {"field": "o"}
 }
},
{
 "data": {"name": "labels"},
 "mark": {"type": "text", "font": "Liberation Serif", "fontSize": 17, "angle": 270, "color": "black"},
 "encoding": {
  "x": {"field": "x", "type": "quantitative"},
  "y": {"field": "y", "type": "quantitative"},
  "text": {"field": "t"}
 }
}
]
}
